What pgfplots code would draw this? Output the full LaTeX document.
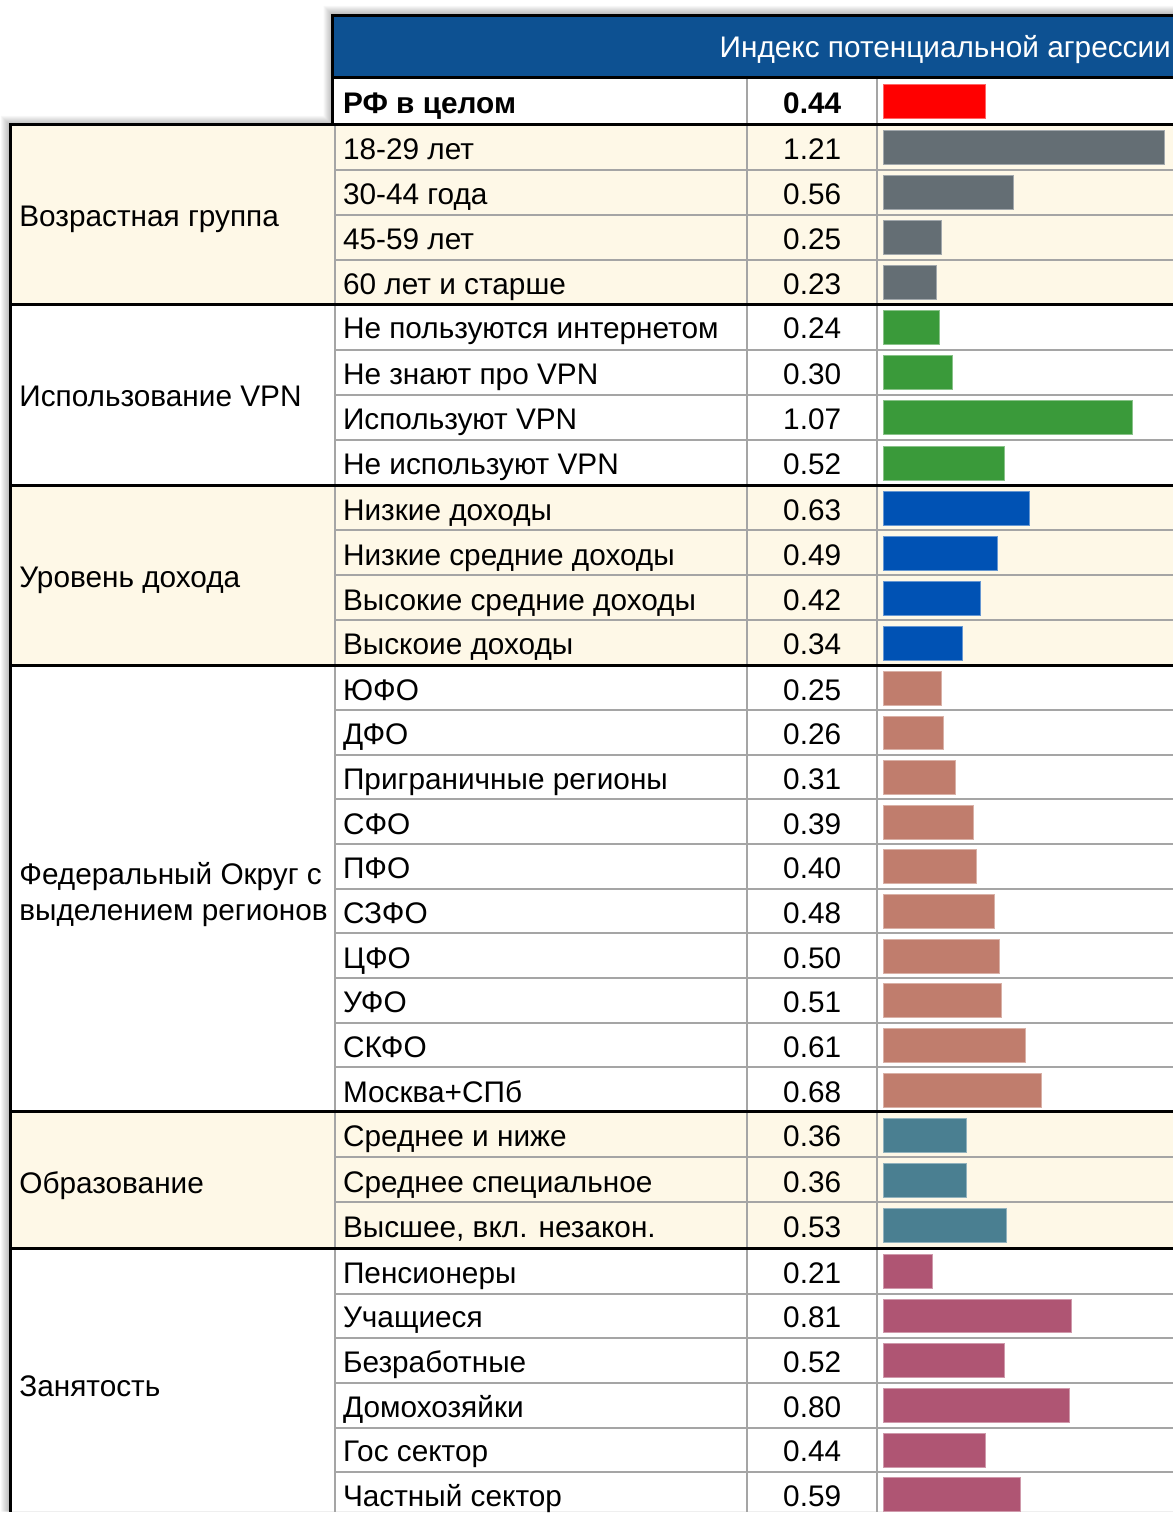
\documentclass[border=0pt]{standalone}
\usepackage{pgfplots}
\usepackage{pgfplotstable}
\pgfplotsset{compat=1.18}
\usepackage{fontspec}
\setmainfont{Liberation Sans}
\definecolor{hdr}{RGB}{13,81,146}
\definecolor{beige}{RGB}{254,248,231}
\definecolor{cred}{RGB}{255,0,0}
\definecolor{cgray}{RGB}{100,110,116}
\definecolor{cgreen}{RGB}{58,154,58}
\definecolor{cblue}{RGB}{0,82,180}
\definecolor{csalmon}{RGB}{192,125,109}
\definecolor{cteal}{RGB}{74,127,145}
\definecolor{cpink}{RGB}{175,85,115}
\definecolor{gline}{RGB}{165,165,165}
\newcommand{\lbl}{\fontsize{14.9}{18}\selectfont}
\newcommand{\X}[1]{{(#1-884)/233}}

\pgfplotstableread[col sep=semicolon]{
y;v;label
102;0.44;РФ в целом
}\rf
\pgfplotstableread[col sep=semicolon]{
y;v;label
148;1.21;18-29 лет
193;0.56;30-44 года
238;0.25;45-59 лет
282.5;0.23;60 лет и старше
}\age
\pgfplotstableread[col sep=semicolon]{
y;v;label
327.5;0.24;Не пользуются интернетом
373;0.30;Не знают про VPN
418.3;1.07;Используют VPN
463.5;0.52;Не используют VPN
}\vpn
\pgfplotstableread[col sep=semicolon]{
y;v;label
508.8;0.63;Низкие доходы
553.8;0.49;Низкие средние доходы
598.8;0.42;Высокие средние доходы
643.8;0.34;Выскоие доходы
}\inc
\pgfplotstableread[col sep=semicolon]{
y;v;label
689;0.25;ЮФО
733.7;0.26;ДФО
778.4;0.31;Приграничные регионы
823.1;0.39;СФО
867.8;0.40;ПФО
912.5;0.48;СЗФО
957.2;0.50;ЦФО
1001.9;0.51;УФО
1046.6;0.61;СКФО
1091.3;0.68;Москва+СПб
}\reg
\pgfplotstableread[col sep=semicolon]{
y;v;label
1136.2;0.36;Среднее и ниже
1181.4;0.36;Среднее специальное
1226.6;0.53;Высшее, вкл. незакон.
}\edu
\pgfplotstableread[col sep=semicolon]{
y;v;label
1272.6;0.21;Пенсионеры
1317.3;0.81;Учащиеся
1362.1;0.52;Безработные
1406.8;0.80;Домохозяйки
1451.6;0.44;Гос сектор
1496.3;0.59;Частный сектор
}\emp

\newcommand{\grp}[3]{%
 \addplot[xbar, bar width=34, bar shift=0pt, fill=#2, draw=#2!60!white, line width=0.5pt] table[x=v,y=y]{#1};
 \addplot[draw=none, mark=none, nodes near coords, point meta=explicit symbolic,
   every node near coord/.style={anchor=base west, inner sep=0pt, yshift=-5.9pt, font=\lbl#3, text=black}]
   table[x expr=-2.32189, y=y, meta=label]{#1};
 \addplot[draw=none, mark=none,
   nodes near coords={\pgfmathprintnumber[fixed,fixed zerofill,precision=2,assume math mode=true]{\pgfplotspointmeta}},
   point meta=\thisrow{v},
   every node near coord/.style={anchor=base, inner sep=0pt, yshift=-5.9pt, font=\lbl#3, text=black}]
   table[x expr=-0.30472, y=y]{#1};
}

\begin{document}
\begin{tikzpicture}
\begin{axis}[
  scale only axis, width=587pt, height=756.5pt,
  xmin=-3.79399, xmax=1.24464, ymin=0, ymax=1513, y dir=reverse,
  axis lines=none, clip=false,
]
% background
\fill[white] (\X{0},0) rectangle (\X{1174},1513);
% shadow
\pgfplotsinvokeforeach{1,2,3,4,5,6,7,8,9}{
  \fill[black, opacity=0.03] (\X{333-#1},15-#1) -- (\X{1174},15-#1) -- (\X{1174},1513) -- (\X{10-#1},1513) -- (\X{10-#1},125-#1) -- (\X{333-#1},125-#1) -- cycle;
}
\fill[white] (\X{333},15) -- (\X{1174},15) -- (\X{1174},1513) -- (\X{10},1513) -- (\X{10},125) -- (\X{333},125) -- cycle;
% beige groups
\fill[beige] (\X{10},125) rectangle (\X{1174},304.5);
\fill[beige] (\X{10},486) rectangle (\X{1174},666);
\fill[beige] (\X{10},1113) rectangle (\X{1174},1250);
% header
\fill[hdr] (\X{333},15) rectangle (\X{1174},78);
\node[anchor=base west, inner sep=0pt, text=white, font=\lbl] at (\X{720},58) {Индекс потенциальной агрессии};
% gray horizontal lines
\pgfplotsinvokeforeach{170.5,215.5,260, 350,395.5,440.75, 531,576,621,
  710.7,755.4,800.1,844.8,889.5,934.2,978.9,1023.6,1068.3,
  1158.3,1203.6, 1294.8,1339.5,1384.3,1429,1473.8}{
  \draw[gline, line width=1pt] (\X{335},#1) -- (\X{1174},#1);
}
% gray vertical lines
\draw[gline, line width=1pt] (\X{335},125) -- (\X{335},1513);
\draw[gline, line width=1pt] (\X{748},78) -- (\X{748},1513);
\draw[gline, line width=1pt] (\X{878},78) -- (\X{878},1513);
% black lines
\draw[black, line width=1.5pt] (\X{333},125) -- (\X{333},15.75) -- (\X{1174},15.75);
\draw[black, line width=1.5pt] (\X{333},78) -- (\X{1174},78);
\draw[black, line width=1.5pt] (\X{10.75},1513) -- (\X{10.75},125) -- (\X{1174},125);
\pgfplotsinvokeforeach{304.5,486,666,1113,1250}{
  \draw[black, line width=1.5pt] (\X{10},#1) -- (\X{1174},#1);
}
% group labels
\node[anchor=base west, inner sep=0pt, font=\lbl] at (\X{19},227) {Возрастная группа};
\node[anchor=base west, inner sep=0pt, font=\lbl] at (\X{19},407) {Использование VPN};
\node[anchor=base west, inner sep=0pt, font=\lbl] at (\X{19},588) {Уровень дохода};
\node[anchor=base west, inner sep=0pt, font=\lbl] at (\X{19},885) {Федеральный Округ с};
\node[anchor=base west, inner sep=0pt, font=\lbl] at (\X{19},921) {выделением регионов};
\node[anchor=base west, inner sep=0pt, font=\lbl] at (\X{19},1195) {Образование};
\node[anchor=base west, inner sep=0pt, font=\lbl] at (\X{19},1398) {Занятость};
% data
\grp{\rf}{cred}{\bfseries}
\grp{\age}{cgray}{}
\grp{\vpn}{cgreen}{}
\grp{\inc}{cblue}{}
\grp{\reg}{csalmon}{}
\grp{\edu}{cteal}{}
\grp{\emp}{cpink}{}
\end{axis}
\end{tikzpicture}
\end{document}
